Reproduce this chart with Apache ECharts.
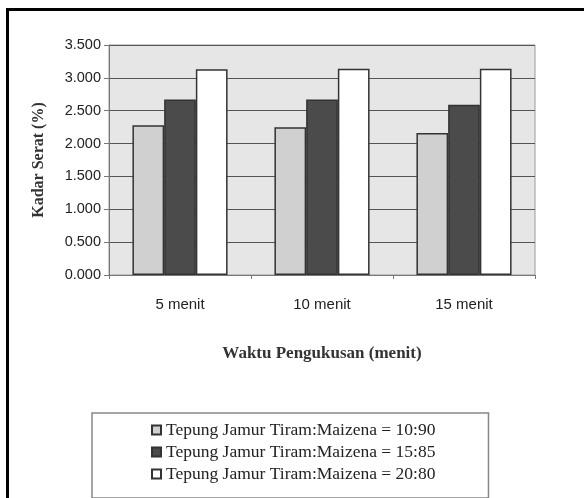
<!DOCTYPE html>
<html><head><meta charset="utf-8">
<script src="https://cdn.jsdelivr.net/npm/echarts@6/dist/echarts.min.js"></script>
<style>
html,body{margin:0;padding:0;background:#fff;}
#frame{position:absolute;left:6px;top:8px;width:600px;height:500px;border-left:3px solid #000;border-top:3px solid #000;}
#c{position:absolute;left:0;top:0;width:584px;height:498px;}
</style></head>
<body>
<div id="frame"></div>
<div id="c"></div>
<script>
const categories = ['5 menit', '10 menit', '15 menit'];
const seriesNames = [
  'Tepung Jamur Tiram:Maizena = 10:90',
  'Tepung Jamur Tiram:Maizena = 15:85',
  'Tepung Jamur Tiram:Maizena = 20:80'
];
const ratio1090 = [2.28, 2.25, 2.16];
const ratio1585 = [2.67, 2.67, 2.59];
const ratio2080 = [3.13, 3.14, 3.14];
const yTicks = [0, 0.5, 1, 1.5, 2, 2.5, 3, 3.5];

const colors = ['#d0d0d0', '#4b4b4b', '#ffffff'];
const values = [ratio1090, ratio1585, ratio2080];

const chart = echarts.init(document.getElementById('c'), null, {renderer: 'canvas'});
chart.setOption({
  animation: false,
  backgroundColor: 'transparent',
  grid: {left: 109, right: 49, top: 45, bottom: 223, show: true,
         backgroundColor: '#e6e6e6', borderColor: '#9a9a9a', borderWidth: 1},
  xAxis: {
    type: 'category', data: categories,
    axisLine: {lineStyle: {color: '#777', width: 1}},
    axisTick: {show: true, alignWithLabel: false, length: 4, lineStyle: {color: '#777'}},
    axisLabel: {color: '#222', fontFamily: 'Liberation Sans', fontSize: 15, margin: 22},
    name: 'Waktu Pengukusan (menit)', nameLocation: 'middle', nameGap: 70,
    nameTextStyle: {fontFamily: 'Liberation Serif', fontWeight: 'bold', fontSize: 17, color: '#333'}
  },
  yAxis: {
    type: 'value', min: 0, max: 3.5, interval: 0.5,
    axisLine: {show: true, lineStyle: {color: '#777'}},
    axisTick: {show: true, length: 5, lineStyle: {color: '#777'}},
    splitLine: {show: true, lineStyle: {color: '#555', width: 1}},
    axisLabel: {color: '#222', fontFamily: 'Liberation Sans', fontSize: 14.5, margin: 8,
      formatter: v => v.toFixed(3)},
    name: 'Kadar Serat (%)', nameLocation: 'middle', nameGap: 62, nameRotate: 90,
    nameTextStyle: {fontFamily: 'Liberation Serif', fontWeight: 'bold', fontSize: 16, color: '#333'}
  },
  legend: {
    orient: 'vertical', left: 92, top: 413,
    padding: [8, 53, 15, 59], itemGap: 4,
    itemWidth: 9, itemHeight: 9, icon: 'rect',
    borderColor: '#888', borderWidth: 1.5,
    textStyle: {fontFamily: 'Liberation Serif', fontSize: 17.5, lineHeight: 17, color: '#222'},
    data: seriesNames
  },
  series: values.map((d, i) => ({
    name: seriesNames[i], type: 'bar', data: d,
    barGap: '0%', barCategoryGap: '33%',
    itemStyle: {color: colors[i], borderColor: '#333', borderWidth: 1.5}
  }))
});
</script>
</body></html>
